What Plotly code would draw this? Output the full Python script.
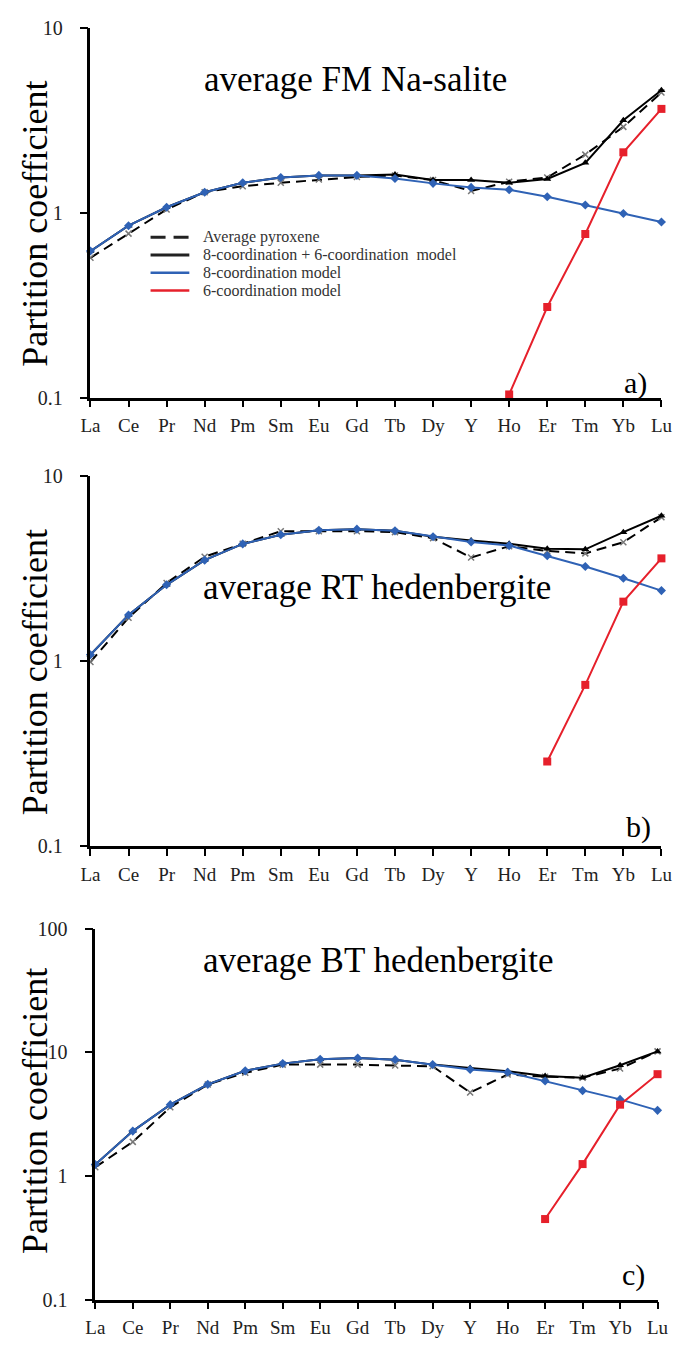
import plotly.graph_objects as go

elements = ["La", "Ce", "Pr", "Nd", "Pm", "Sm", "Eu", "Gd", "Tb", "Dy", "Y", "Ho", "Er", "Tm", "Yb", "Lu"]

# Panel a) average FM Na-salite
a_avg = [0.57, 0.77, 1.04, 1.29, 1.39, 1.45, 1.51, 1.56, 1.59, 1.50, 1.31, 1.47, 1.55, 2.06, 2.91, 4.46]
a_sum = [0.62, 0.85, 1.07, 1.29, 1.45, 1.55, 1.59, 1.59, 1.61, 1.50, 1.50, 1.45, 1.52, 1.86, 3.16, 4.59]
a_8 = [0.62, 0.85, 1.07, 1.29, 1.45, 1.55, 1.59, 1.59, 1.53, 1.44, 1.37, 1.33, 1.22, 1.10, 0.99, 0.89]
a_6 = [None, None, None, None, None, None, None, None, None, None, None, 0.104, 0.309, 0.767, 2.12, 3.64]

# Panel b) average RT hedenbergite
b_avg = [0.99, 1.72, 2.65, 3.67, 4.32, 5.05, 5.05, 5.05, 4.99, 4.63, 3.64, 4.19, 3.95, 3.83, 4.40, 6.00]
b_sum = [1.085, 1.78, 2.59, 3.52, 4.31, 4.83, 5.11, 5.18, 5.07, 4.71, 4.50, 4.32, 4.06, 4.03, 4.99, 6.12]
b_8 = [1.085, 1.78, 2.59, 3.52, 4.31, 4.83, 5.11, 5.18, 5.07, 4.71, 4.41, 4.22, 3.72, 3.25, 2.81, 2.41]
b_6 = [None, None, None, None, None, None, None, None, None, None, None, None, 0.287, 0.745, 2.10, 3.60]

# Panel c) average BT hedenbergite
c_avg = [1.18, 1.89, 3.60, 5.50, 6.84, 7.97, 7.97, 7.97, 7.83, 7.73, 4.74, 6.63, 6.36, 6.24, 7.41, 10.2]
c_sum = [1.24, 2.31, 3.78, 5.52, 7.10, 8.12, 8.80, 9.00, 8.74, 7.97, 7.50, 7.05, 6.44, 6.24, 7.87, 10.2]
c_8 = [1.24, 2.31, 3.78, 5.52, 7.10, 8.12, 8.80, 9.00, 8.74, 7.97, 7.27, 6.92, 5.87, 4.91, 4.17, 3.40]
c_6 = [None, None, None, None, None, None, None, None, None, None, None, None, 0.449, 1.25, 3.78, 6.67]

panel_titles = ["average FM Na-salite", "average RT hedenbergite", "average BT hedenbergite"]
panel_letters = ["a)", "b)", "c)"]
legend_names = ["Average pyroxene", "8-coordination + 6-coordination  model",
                "8-coordination model", "6-coordination model"]

BLUE = "#2f62b5"
RED = "#e6202b"
FONT = "Liberation Serif"

idx = list(range(len(elements)))
fig = go.Figure()

panels = [(a_avg, a_sum, a_8, a_6), (b_avg, b_sum, b_8, b_6), (c_avg, c_sum, c_8, c_6)]
for p, (avg, tot, eight, six) in enumerate(panels):
    xa = "x" if p == 0 else f"x{p+1}"
    ya = "y" if p == 0 else f"y{p+1}"
    fig.add_trace(go.Scatter(x=idx, y=avg, xaxis=xa, yaxis=ya, mode="lines+markers",
                             name=legend_names[0],
                             line=dict(color="black", width=2, dash="10px,6px"),
                             marker=dict(symbol="x-thin", size=6, color="#777777",
                                         line=dict(width=1.5, color="#777777")),
                             showlegend=False, cliponaxis=False))
    fig.add_trace(go.Scatter(x=idx, y=tot, xaxis=xa, yaxis=ya, mode="lines+markers",
                             name=legend_names[1],
                             line=dict(color="black", width=2),
                             marker=dict(symbol="triangle-up", size=7, color="black"),
                             showlegend=False, cliponaxis=False))
    fig.add_trace(go.Scatter(x=idx, y=eight, xaxis=xa, yaxis=ya, mode="lines+markers",
                             name=legend_names[2],
                             line=dict(color=BLUE, width=2),
                             marker=dict(symbol="diamond", size=7, color=BLUE),
                             showlegend=False, cliponaxis=False))
    fig.add_trace(go.Scatter(x=idx, y=six, xaxis=xa, yaxis=ya, mode="lines+markers",
                             name=legend_names[3],
                             line=dict(color=RED, width=2),
                             marker=dict(symbol="square", size=8, color=RED),
                             showlegend=False, cliponaxis=False, connectgaps=False))

W, H = 686, 1352
def px_x(v):
    return v / W
def px_y(v):
    return 1 - v / H

xdoms = [[px_x(83), px_x(672)], [px_x(83), px_x(672)], [px_x(88), px_x(668)]]
ydoms = [[px_y(393), px_y(17)], [px_y(849), px_y(473)], [px_y(1310), px_y(933)]]
yranges = [[-1, 1], [-1, 1], [-1, 2]]
ytv = [[0.1, 1, 10], [0.1, 1, 10], [0.1, 1, 10, 100]]
ytt = [["0.1", "1", "10"], ["0.1", "1", "10"], ["0.1", "1", "10", "100"]]

layout = dict(width=W, height=H, margin=dict(l=0, r=0, t=0, b=0),
              paper_bgcolor="white", plot_bgcolor="white",
              font=dict(family=FONT, color="black"), showlegend=False)
for p in range(3):
    sx = "" if p == 0 else str(p + 1)
    layout["xaxis" + sx] = dict(domain=xdoms[p], anchor="y" + sx, range=[0, 15],
                                tickvals=idx, ticktext=elements, showline=True,
                                linecolor="black", linewidth=2.5, ticks="outside",
                                ticklen=7, tickwidth=2, tickcolor="black",
                                showgrid=False, zeroline=False,
                                tickfont=dict(family=FONT, size=19, color="#222"),
                                ticklabelstandoff=2)
    layout["yaxis" + sx] = dict(domain=ydoms[p], anchor="x" + sx, type="log",
                                range=yranges[p], tickvals=ytv[p], ticktext=ytt[p],
                                showline=True, linecolor="black", linewidth=2.5,
                                ticks="outside", ticklen=8, tickwidth=2, tickcolor="black",
                                showgrid=False, zeroline=False,
                                tickfont=dict(family=FONT, size=20, color="#222"),
                                ticklabelstandoff=13)
fig.update_layout(**layout)

# manual legend (keys + labels) inside panel a
leg_styles = [dict(color="#222", width=3, dash="15px,8px"), dict(color="#222", width=3),
              dict(color=BLUE, width=2.5), dict(color=RED, width=2.5)]
leg_rows = [230, 248, 266, 284]
for name, st, ry in zip(legend_names, leg_styles, leg_rows):
    fig.add_shape(type="line", xref="paper", yref="paper",
                  x0=px_x(145), x1=px_x(185), y0=px_y(ry), y1=px_y(ry), line=st)
    fig.add_annotation(text=name.replace("  ", "&nbsp; "), xref="paper", yref="paper",
                       x=px_x(197), y=px_y(ry), xanchor="left", yanchor="middle",
                       showarrow=False, font=dict(family=FONT, size=16, color="#333"))

title_pos = [(356, 70), (379, 586), (380, 965)]
letter_pos = [(645, 378), (648, 829), (643, 1285)]
ytitle_y = [216, 672, 1118]
for p in range(3):
    fig.add_annotation(text=panel_titles[p], xref="paper", yref="paper",
                       x=px_x(title_pos[p][0]), y=px_y(title_pos[p][1]),
                       xanchor="center", yanchor="middle", showarrow=False,
                       font=dict(family=FONT, size=35, color="black"))
    fig.add_annotation(text=panel_letters[p], xref="paper", yref="paper",
                       x=px_x(letter_pos[p][0]), y=px_y(letter_pos[p][1]),
                       xanchor="center", yanchor="middle", showarrow=False,
                       font=dict(family=FONT, size=30, color="black"))
    fig.add_annotation(text="Partition coefficient", xref="paper", yref="paper",
                       x=px_x(26), y=px_y(ytitle_y[p]), textangle=-90,
                       xanchor="center", yanchor="middle", showarrow=False,
                       font=dict(family=FONT, size=36, color="black"))

fig.write_html("out.html")
